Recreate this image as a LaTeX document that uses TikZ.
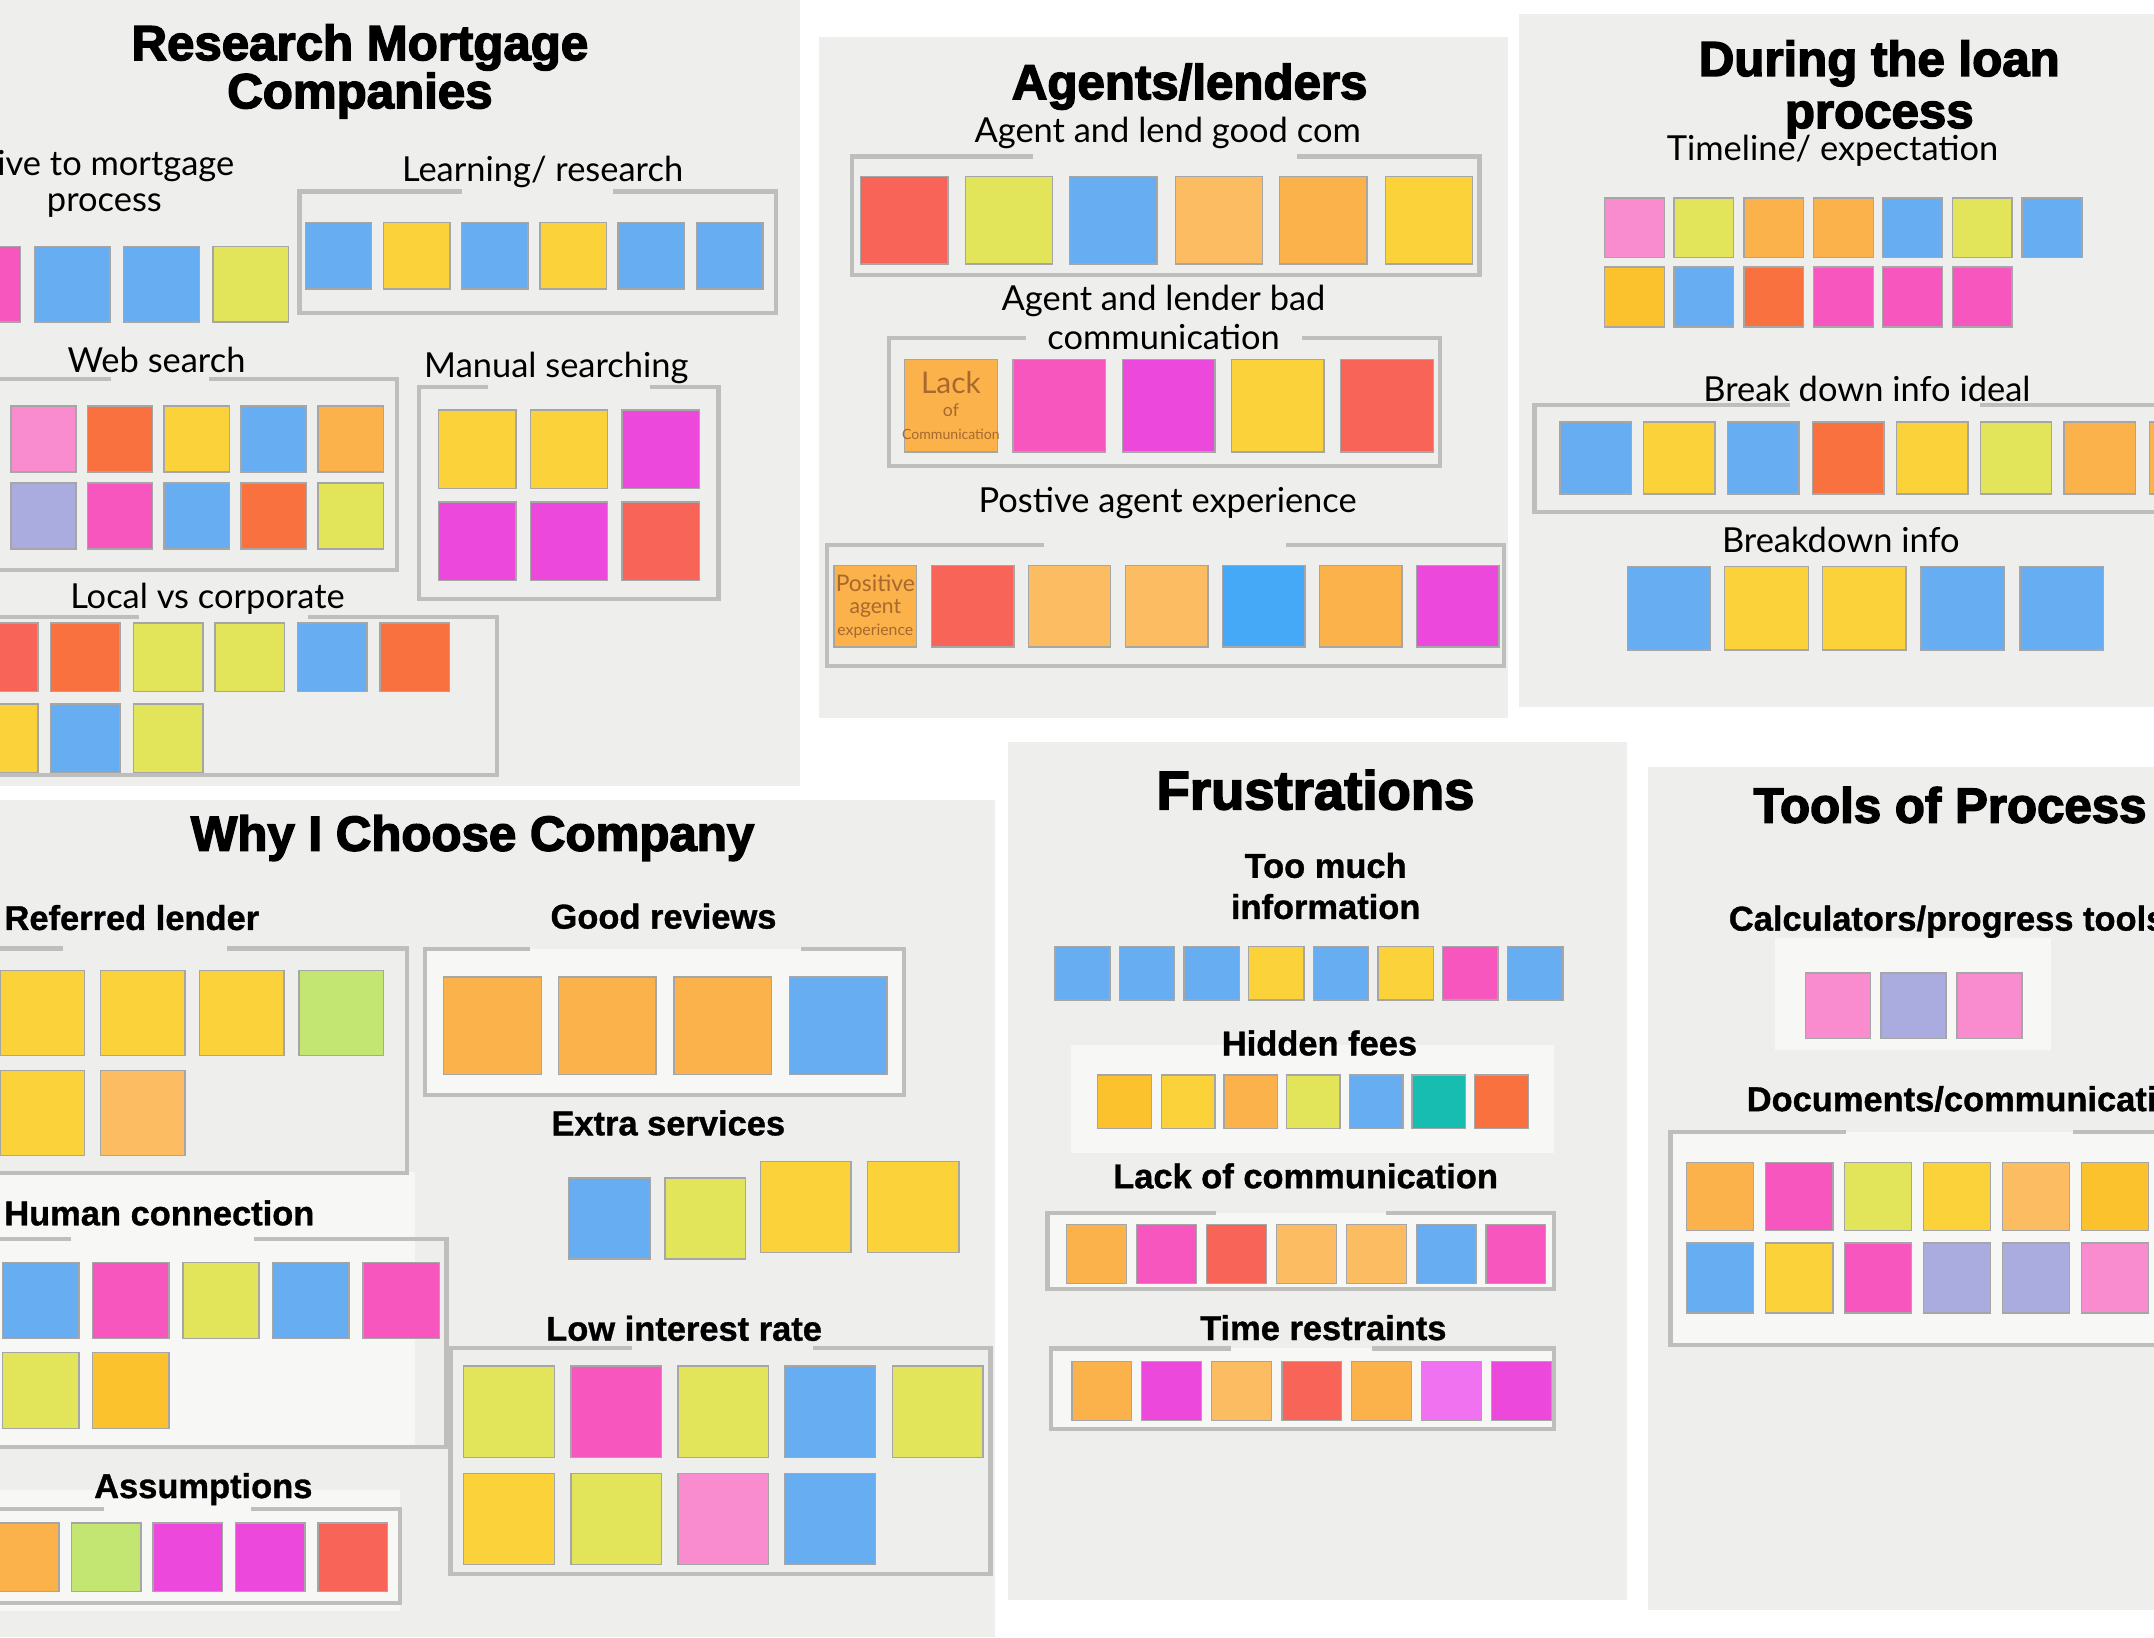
\documentclass[tikz,border=0pt]{standalone}
\usepackage{fontspec}
\setmainfont{Lato}
\newfontfamily\titlefont[FakeBold=3]{Liberation Sans Bold}
\newfontfamily\headfont[FakeBold=1]{Liberation Sans Bold}

\definecolor{panelgray}{HTML}{EEEEEC}
\definecolor{framegray}{HTML}{BEBEBC}
\definecolor{hilite}{HTML}{F7F7F6}
\definecolor{nblue}{HTML}{66ADF2}
\definecolor{ndblue}{HTML}{45A9F7}
\definecolor{nyellow}{HTML}{FBD23A}
\definecolor{ngold}{HTML}{FBC22E}
\definecolor{nlime}{HTML}{E2E55A}
\definecolor{norange}{HTML}{FBB24A}
\definecolor{npeach}{HTML}{FCBC62}
\definecolor{nred}{HTML}{F86457}
\definecolor{ntomato}{HTML}{F9713F}
\definecolor{npink}{HTML}{F656BE}
\definecolor{nmagenta}{HTML}{EC48DB}
\definecolor{nviolet}{HTML}{F072F0}
\definecolor{nlpink}{HTML}{F98CCF}
\definecolor{nlav}{HTML}{AAACDF}
\definecolor{ngreen}{HTML}{C3E672}
\definecolor{nteal}{HTML}{16BDB0}
\definecolor{inkbrown}{HTML}{A8682E}

\newcommand{\pxu}{0.3909pt}

\tikzset{
  note/.style 2 args={draw=black!35, line width=0.4pt, inner sep=0pt, anchor=north west,
    minimum width=#1*\pxu, minimum height=#2*\pxu},
  grouping/.style={draw=framegray, line width=1.2pt},
  paneltitle/.style={font=\titlefont\fontsize{14}{13.7}\selectfont, align=center, inner sep=0pt},
  grouphead/.style={font=\fontsize{9.8}{10}\selectfont, align=center, inner sep=0pt},
  boldhead/.style={font=\headfont\fontsize{9.8}{11.7}\selectfont, align=center, inner sep=0pt},
  ink/.style={text=inkbrown, align=center, inner sep=0pt, font=\fontsize{5}{6.5}\selectfont},
}

\begin{document}
\begin{tikzpicture}[x=0.013737cm, y=-0.013737cm]
        \fill[white] (0,0) rectangle (1568,1192);
        \useasboundingbox (0,0) rectangle (1568,1192);
        \clip (0,0) rectangle (1568,1192);

        % Research Mortgage Companies
        \fill[panelgray] (0,0) rectangle (582,572);
        \node[paneltitle] (research) at (262,52) {Research Mortgage\\Companies};
        \node[grouphead, anchor=east] (naive) at (171,121) {Naive to mortgage};
        \node[grouphead] (naiveb) at (76,150) {process};
        \foreach \nx/\nc [count=\i] in {-40.5/npink, 24.5/nblue, 89.5/nblue, 154.5/nlime}
          \node[note={55}{55}, fill=\nc] (naive\i) at (\nx,179) {};

        \node[grouphead] (learning) at (395,125) {Learning/ research};
        \draw[grouping] (336,139.4) -| (218,228) -| (565,139.4) -- (446,139.4);
        \foreach \nx/\nc [count=\i] in {221.7/nblue, 278.6/nyellow, 335.4/nblue, 392.6/nyellow, 449.4/nblue, 506.6/nblue}
          \node[note={48.3}{48.5}, fill=\nc] (learn\i) at (\nx,161.4) {};

        \node[grouphead] (websearch) at (114,262) {Web search};
        \draw[grouping] (81,276) -| (-10,415) -| (289,276) -- (152,276);
        \foreach \nx/\nc [count=\i] in {7.4/nlpink, 63/ntomato, 119/nyellow, 175/nblue, 231/norange}
          \node[note={47.5}{48}, fill=\nc] (weba\i) at (\nx,295) {};
        \foreach \nx/\nc [count=\i] in {7.4/nlav, 63/npink, 119/nblue, 175/ntomato, 231/nlime}
          \node[note={47.5}{48}, fill=\nc] (webb\i) at (\nx,351) {};

        \node[grouphead] (manual) at (405,268) {Manual searching};
        \draw[grouping] (355,282) -| (305,436) -| (523,282) -- (473,282);
        \foreach \nx/\nc [count=\i] in {318.7/nyellow, 385.5/nyellow, 452.3/nmagenta}
          \node[note={56.4}{57}, fill=\nc] (mana\i) at (\nx,298) {};
        \foreach \nx/\nc [count=\i] in {318.7/nmagenta, 385.5/nmagenta, 452.3/nred}
          \node[note={56.4}{57}, fill=\nc] (manb\i) at (\nx,365) {};

        \node[grouphead] (localcorp) at (151,436) {Local vs corporate};
        \draw[grouping] (101,449) -| (-10,564) -| (362,449) -- (224,449);
        \foreach \nx/\nc [count=\i] in {-23.5/nred, 36.4/ntomato, 96.6/nlime, 156/nlime, 216/nblue, 276/ntomato}
          \node[note={50.5}{50}, fill=\nc] (loca\i) at (\nx,453) {};
        \foreach \nx/\nc [count=\i] in {-23.5/nyellow, 36.4/nblue, 96.6/nlime}
          \node[note={50.5}{50}, fill=\nc] (locb\i) at (\nx,512) {};

        % Agents/lenders
        \fill[panelgray] (596,27) rectangle (1098,523);
        \node[paneltitle] (agents) at (866,63) {Agents/lenders};
        \node[grouphead] (goodcom) at (850,97) {Agent and lend good com};
        \draw[grouping] (752,114) -| (620,200) -| (1077,114) -- (944,114);
        \foreach \nx/\nc [count=\i] in {626/nred, 702.2/nlime, 778.2/nblue, 855/npeach, 931/norange, 1008/nyellow}
          \node[note={63.5}{63.5}, fill=\nc] (good\i) at (\nx,128) {};

        \node[grouphead] (badcom) at (847,231) {Agent and lender bad\\[1pt]communication};
        \draw[grouping] (747,246) -| (647,339) -| (1048,246) -- (948,246);
        \foreach \nx/\nc [count=\i] in {658/norange, 737/npink, 816.5/nmagenta, 896/nyellow, 975.5/nred}
          \node[note={67.4}{67.4}, fill=\nc] (bad\i) at (\nx,261) {};
        \node[ink] (lackink) at (bad1) {{\fontsize{8.5}{6.5}\selectfont Lack}\\of\\{\fontsize{4}{6.5}\selectfont Communication}};

        \node[grouphead] (postive) at (850,366) {Postive agent experience};
        \draw[grouping] (760,397) -| (602,485) -| (1095,397) -- (936,397);
        \foreach \nx/\nc [count=\i] in {606.7/norange, 677.5/nred, 748/npeach, 818.8/npeach, 889.4/ndblue, 960/norange, 1030.5/nmagenta}
          \node[note={60}{59.5}, fill=\nc] (pos\i) at (\nx,411) {};
        \node[ink, font=\fontsize{5}{6.2}\selectfont] (posink) at (pos1) {{\fontsize{6.5}{6.2}\selectfont Positive}\\{\fontsize{6}{6.2}\selectfont agent}\\{\fontsize{4.5}{6.2}\selectfont experience}};

        % During the loan process
        \fill[panelgray] (1106,10) rectangle (1568,515);
        \node[paneltitle, font=\titlefont\fontsize{14}{14.8}\selectfont] (during) at (1368,65) {During the loan\\process};
        \node[grouphead] (timeline) at (1334,110) {Timeline/ expectation};
        \foreach \nx/\nc [count=\i] in {1167.5/nlpink, 1218/nlime, 1269/norange, 1319.8/norange, 1370/nblue, 1420.6/nlime, 1471.5/nblue}
          \node[note={43.5}{43.5}, fill=\nc] (tima\i) at (\nx,143.5) {};
        \foreach \nx/\nc [count=\i] in {1167.5/ngold, 1218/nblue, 1269/ntomato, 1319.8/npink, 1370/npink, 1420.6/npink}
          \node[note={43.5}{43.5}, fill=\nc] (timb\i) at (\nx,194) {};

        \node[grouphead] (ideal) at (1359,283) {Break down info ideal};
        \draw[grouping] (1303,295) -| (1117,372.5) -| (1580,295) -- (1441,295);
        \foreach \nx/\nc [count=\i] in {1135/nblue, 1196/nyellow, 1257/nblue, 1319/ntomato, 1380/nyellow, 1441/nlime, 1502/norange, 1564/norange}
          \node[note={52}{52.4}, fill=\nc] (ideal\i) at (\nx,306.6) {};

        \node[grouphead] (breakdown) at (1340,393) {Breakdown info};
        \foreach \nx/\nc [count=\i] in {1184/nblue, 1255/nyellow, 1326/nyellow, 1398/nblue, 1470/nblue}
          \node[note={60.8}{60.5}, fill=\nc] (brk\i) at (\nx,412) {};

        % Why I Choose Company
        \fill[panelgray] (0,582) rectangle (724,1192);
        \fill[hilite] (0,853) rectangle (302,1055);
        \fill[hilite] (0,1085) rectangle (291,1173);
        \node[paneltitle] (whyco) at (344,610) {Why I Choose Company};

        \node[boldhead] (referred) at (96,668) {Referred lender};
        \draw[grouping] (46,690.4) -| (-10,853.6) -| (296,690.4) -- (165,690.4);
        \foreach \nx/\nc [count=\i] in {-0.5/nyellow, 72.5/nyellow, 144.6/nyellow, 217/ngreen}
          \node[note={61.5}{62}, fill=\nc] (refa\i) at (\nx,706) {};
        \foreach \nx/\nc [count=\i] in {-0.5/nyellow, 72.5/npeach}
          \node[note={61.5}{62}, fill=\nc] (refb\i) at (\nx,778.6) {};

        \node[boldhead] (reviews) at (483,667) {Good reviews};
        \fill[hilite] (309.5,691) rectangle (658,797);
        \draw[grouping] (386,691) -| (309.5,797) -| (658,691) -- (583,691);
        \foreach \nx/\nc [count=\i] in {322.5/norange, 406/norange, 490/norange, 574/nblue}
          \node[note={71}{71}, fill=\nc] (rev\i) at (\nx,710.6) {};

        \node[boldhead] (extra) at (486.5,817.5) {Extra services};
        \node[note={59.5}{59}, fill=nblue] (extra1) at (413.5,857) {};
        \node[note={58.5}{59}, fill=nlime] (extra2) at (483.7,857) {};
        \node[note={66}{66}, fill=nyellow] (extra3) at (553,845) {};
        \node[note={66.5}{66}, fill=nyellow] (extra4) at (631,845) {};

        \node[boldhead] (human) at (116,883) {Human connection};
        \draw[grouping] (52,902) -| (-10,1053.4) -| (325,902) -- (185,902);
        \foreach \nx/\nc [count=\i] in {1.4/nblue, 67/npink, 132.6/nlime, 198/nblue, 263.8/npink}
          \node[note={55.5}{55.5}, fill=\nc] (huma\i) at (\nx,918.5) {};
        \foreach \nx/\nc [count=\i] in {1.4/nlime, 67/ngold}
          \node[note={55.5}{55.5}, fill=\nc] (humb\i) at (\nx,984) {};

        \node[boldhead] (lowrate) at (498,967) {Low interest rate};
        \draw[grouping] (460,981.5) -| (328,1146) -| (721,981.5) -- (592,981.5);
        \foreach \nx/\nc [count=\i] in {337/nlime, 415/npink, 493/nlime, 570.6/nblue, 649/nlime}
          \node[note={66}{66.4}, fill=\nc] (lowa\i) at (\nx,994) {};
        \foreach \nx/\nc [count=\i] in {337/nyellow, 415/nlime, 493/nlpink, 570.6/nblue}
          \node[note={66}{66.4}, fill=\nc] (lowb\i) at (\nx,1072) {};

        \node[boldhead] (assume) at (148,1084) {Assumptions};
        \draw[grouping] (76,1098.4) -| (-10,1167) -| (291,1098.4) -- (182.5,1098.4);
        \foreach \nx/\nc [count=\i] in {-8/norange, 51.7/ngreen, 111/nmagenta, 171/nmagenta, 231/nred}
          \node[note={50.5}{50}, fill=\nc] (asm\i) at (\nx,1108) {};

        % Frustrations
        \fill[panelgray] (734,540) rectangle (1184,1165);
        \node[paneltitle, font=\titlefont\fontsize{15.5}{15}\selectfont] (frustr) at (957.6,575) {Frustrations};
        \node[boldhead] (toomuch) at (965,645) {Too much\\information};
        \foreach \nx/\nc [count=\i] in {767.4/nblue, 814.4/nblue, 861.5/nblue, 908.5/nyellow, 955.6/nblue, 1002.6/nyellow, 1049.7/npink, 1097/nblue}
          \node[note={40.2}{39}, fill=\nc] (much\i) at (\nx,688.4) {};

        \fill[hilite] (779.7,761) rectangle (1131,839);
        \node[boldhead] (hidden) at (960.5,759.3) {Hidden fees};
        \foreach \nx/\nc [count=\i] in {798.6/ngold, 844.8/nyellow, 890.4/norange, 935.8/nlime, 981.7/nblue, 1027.3/nteal, 1073/ntomato}
          \node[note={39}{39}, fill=\nc] (fee\i) at (\nx,782) {};

        \node[boldhead] (lackcom) at (950.4,856) {Lack of communication};
        \fill[hilite] (762.5,882.8) rectangle (1131,938.6);
        \draw[grouping] (885,882.8) -| (762.5,938.6) -| (1131,882.8) -- (1009,882.8);
        \foreach \nx/\nc [count=\i] in {776/norange, 827/npink, 877.8/nred, 928.9/npeach, 979.7/npeach, 1030.5/nblue, 1081.2/npink}
          \node[note={43.5}{43}, fill=\nc] (lack\i) at (\nx,890.8) {};

        \node[boldhead] (timerest) at (963.3,966.5) {Time restraints};
        \fill[hilite] (764.8,981.6) rectangle (1131,1040);
        \draw[grouping] (896,981.6) -| (764.8,1040) -| (1131,981.6) -- (999,981.6);
        \foreach \nx/\nc [count=\i] in {779.7/norange, 830.5/nmagenta, 881.6/npeach, 932.6/nred, 983.4/norange, 1034.2/nviolet, 1085.3/nmagenta}
          \node[note={43.5}{43}, fill=\nc] (time\i) at (\nx,990.4) {};

        % Tools of Process
        \fill[panelgray] (1200,558) rectangle (1568,1172);
        \node[paneltitle, anchor=west] (tools) at (1276,586) {Tools of Process};
        \node[boldhead, anchor=west] (calc) at (1258,671) {Calculators/progress tools};
        \fill[hilite] (1292,683) rectangle (1493,764.5);
        \foreach \nx/\nc [count=\i] in {1313.6/nlpink, 1368.8/nlav, 1424/nlpink}
          \node[note={47.3}{47.8}, fill=\nc] (calc\i) at (\nx,707.7) {};

        \node[boldhead, anchor=west] (docs) at (1271,800) {Documents/communication};
        \fill[hilite] (1216,824) rectangle (1580,979);
        \draw[grouping] (1343.5,824) -| (1216,979) -| (1580,824) -- (1509,824);
        \foreach \nx/\nc [count=\i] in {1227/norange, 1284.7/npink, 1342/nlime, 1399.6/nyellow, 1457/npeach, 1514.5/ngold}
          \node[note={49}{49.8}, fill=\nc] (doca\i) at (\nx,845.6) {};
        \foreach \nx/\nc [count=\i] in {1227/nblue, 1284.7/nyellow, 1342/npink, 1399.6/nlav, 1457/nlav, 1514.5/nlpink}
          \node[note={49}{51}, fill=\nc] (docb\i) at (\nx,904.4) {};
      \end{tikzpicture}
\end{document}
